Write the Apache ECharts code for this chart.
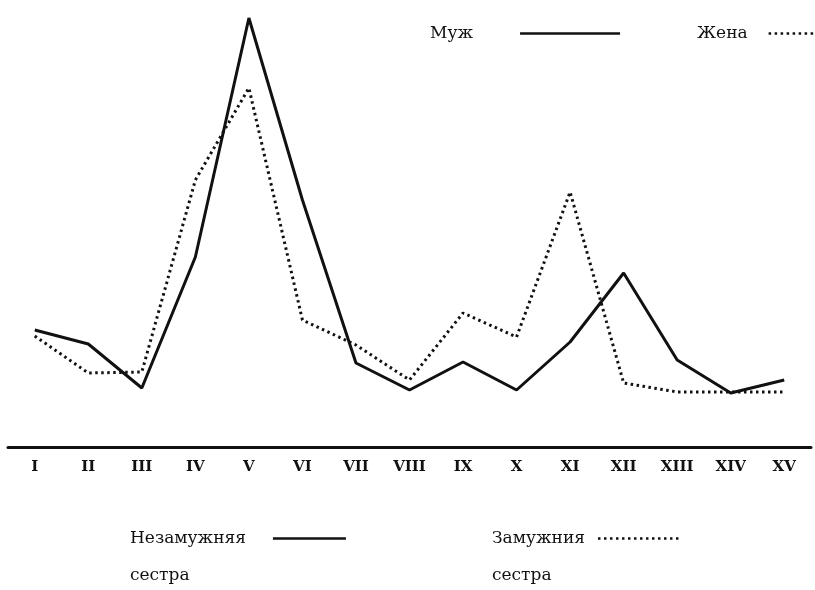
<!DOCTYPE html>
<html><head><meta charset="utf-8">
<script src="https://cdn.jsdelivr.net/npm/echarts@6/dist/echarts.min.js"></script>
<style>html,body{margin:0;padding:0;background:#fff}#c{width:815px;height:590px}</style>
</head><body><div id="c"></div>
<script>
var categories = ['I','II','III','IV','V','VI','VII','VIII','IX','X','XI','XII','XIII','XIV','XV'];
var husband = [117,103,59,190,429,247,84,57,85,57,105,174,87,54,67];
var wife = [111,74,75,267,359,127,102,67,134,110,255,64,55,55,55];
var F = 'DejaVu Serif';
var chart = echarts.init(document.getElementById('c'));
function leg(name, label, left, top, w, pad){
  return {data:[name], left:left, top:top, align:'right', itemWidth:w, itemHeight:14, padding:0,
    itemStyle:{opacity:0}, lineStyle:{width:2.5},
    formatter:function(){return '{t|'+label+'}';},
    textStyle:{color:'#111', fontFamily:F, fontSize:17, rich:{t:{fontFamily:F,fontSize:17,color:'#111',padding:[0,pad,0,0]}}}};
}
chart.setOption({
  animation:false,
  grid:{left:8, right:4, top:7, bottom:143},
  title:[
    {text:'сестра', left:130, top:567, textStyle:{fontFamily:F, fontSize:17, fontWeight:'normal', color:'#111'}, padding:0},
    {text:'сестра', left:492, top:567, textStyle:{fontFamily:F, fontSize:17, fontWeight:'normal', color:'#111'}, padding:0}
  ],
  legend:[
    leg('Муж','Муж',430,25,100,42),
    leg('Жена','Жена',697,25,100,16),
    leg('Муж','Незамужняя',130,530,73,22),
    leg('Жена','Замужния',492,530,82,8)
  ],
  xAxis:{type:'category', data:categories, boundaryGap:true,
    axisLine:{lineStyle:{color:'#111', width:3}}, axisTick:{show:false},
    axisLabel:{color:'#111', fontFamily:F, fontSize:15, fontWeight:'bold', margin:13}},
  yAxis:{type:'value', min:0, max:440, show:false, splitLine:{show:false}},
  series:[
    {name:'Муж', type:'line', data:husband, symbol:'none', lineStyle:{color:'#111', width:3, type:'solid'}, itemStyle:{color:'#111'}},
    {name:'Жена', type:'line', data:wife, symbol:'none', lineStyle:{color:'#111', width:3, type:[2.5,3.5]}, itemStyle:{color:'#111'}}
  ]
});
</script></body></html>
